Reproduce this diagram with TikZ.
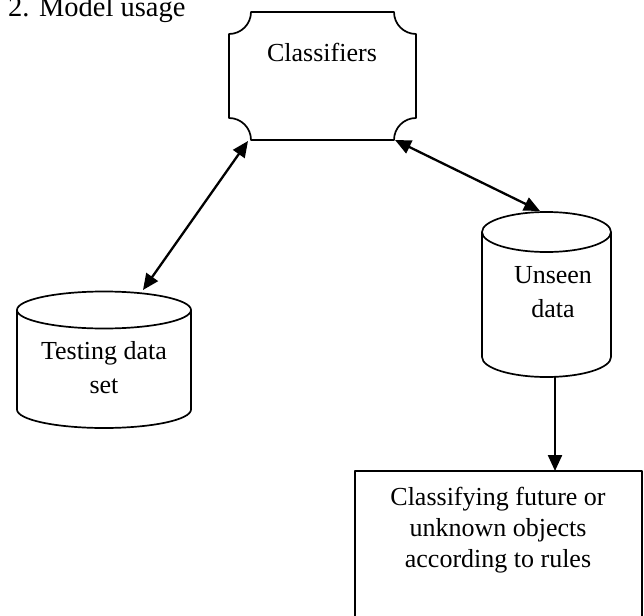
\documentclass[tikz,border=0pt]{standalone}
\usepackage{fontspec}
\setmainfont{Liberation Serif}
\usetikzlibrary{arrows.meta}
\newcommand{\mylines}[1]{\begin{tabular}[t]{@{}c@{}}#1\end{tabular}}
\begin{document}
\begin{tikzpicture}[x=1pt,y=1pt,
  shapeline/.style={line width=1.7pt, line join=round},
  twoway/.style={line width=2.3pt, {Triangle[length=16pt,width=14pt]}-{Triangle[length=16pt,width=14pt]}},
  oneway/.style={line width=2.3pt, -{Triangle[length=16pt,width=14pt]}},
  lbl/.style={inner sep=0pt, anchor=base, font=\fontsize{26}{34}\selectfont},
  boxlbl/.style={inner sep=0pt, anchor=base, font=\fontsize{26}{31}\selectfont},
  titlelbl/.style={inner sep=0pt, anchor=base west, font=\fontsize{28.5}{34}\selectfont}]
\useasboundingbox (0,0) rectangle (644,-615);
\begin{scope}
\clip (0,0) rectangle (644,-615);
% title
\node[titlelbl] (title) at (8,-17) {2. Model usage};
% Classifiers plaque shape
\draw[shapeline] (251,-12) -- (394,-12)
  arc[start angle=180, end angle=270, radius=22] -- (416,-118)
  arc[start angle=90, end angle=180, radius=22] -- (251,-140)
  arc[start angle=0, end angle=90, radius=22] -- (229,-34)
  arc[start angle=270, end angle=360, radius=22] -- cycle;
\node[lbl] (classifiers) at (322,-62) {Classifiers};
% Testing data cylinder
\draw[shapeline] (17,-310) -- (17,-409.5)
  arc[start angle=180, end angle=360, x radius=87, y radius=18.5] -- (191,-310);
\draw[shapeline] (104,-310) ellipse[x radius=87, y radius=18.5];
\node[lbl] (testing) at (104,-359) {\mylines{Testing data\\set}};
% Unseen data cylinder
\draw[shapeline] (482,-232) -- (482,-357)
  arc[start angle=180, end angle=360, x radius=64.5, y radius=20] -- (611,-232);
\draw[shapeline] (546.5,-232) ellipse[x radius=64.5, y radius=20];
\node[lbl] (unseen) at (553,-283) {\mylines{Unseen\\data}};
% result box (open at the bottom edge of the picture)
\draw[shapeline] (355,-630) -- (355,-471) -- (642,-471) -- (642,-630);
\node[boxlbl] (result) at (498,-505) {\mylines{Classifying future or\\unknown objects\\according to rules}};
% connector end points
\coordinate (clsBL) at (248,-141);
\coordinate (clsBR) at (395,-140);
\coordinate (testTop) at (143,-290);
\coordinate (unseenTop) at (540,-211);
\coordinate (unseenBot) at (555,-377);
\coordinate (resultTop) at (555,-471);
% connectors
\draw[twoway] (clsBL) -- (testTop);
\draw[twoway] (clsBR) -- (unseenTop);
\draw[oneway] (unseenBot) -- (resultTop);
\end{scope}
\end{tikzpicture}
\end{document}
